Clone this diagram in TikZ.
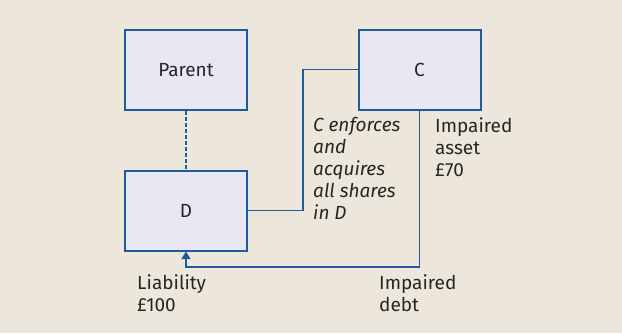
\documentclass[tikz,border=0pt]{standalone}
\usepackage{fontspec}
\setmainfont{Fira Sans}
\usetikzlibrary{arrows.meta}
\definecolor{bgbeige}{HTML}{EDE6DB}
\definecolor{boxfill}{HTML}{E8E8F4}
\definecolor{linkblue}{HTML}{1E5A9C}
\definecolor{inkgray}{HTML}{262626}
\begin{document}
\begin{tikzpicture}[x=1pt,y=-1pt,
  entity/.style={draw=linkblue,line width=2pt,fill=boxfill,minimum width=122pt,
    minimum height=80pt,inner sep=0pt,font=\fontsize{19}{22}\selectfont,text=inkgray},
  link/.style={draw=linkblue,line width=1.3pt},
  note/.style={anchor=north west,inner sep=0pt,align=left,
    font=\fontsize{19}{22}\selectfont,text=inkgray}]
\fill[bgbeige] (0,0) rectangle (622,333);
\useasboundingbox (0,0) rectangle (622,333);

% companies
\node[entity] (parent) at (186,70) {Parent};
\node[entity] (d) at (186,210.5) {D};
\node[entity] (c) at (419.5,69.5) {C};

% connectors
\draw[link,line width=1.2pt,dash pattern=on 3.5pt off 2.5pt] (parent.south) -- (d.north);
\coordinate (kneeA) at (303,0);
\draw[link] (c.west) -| (kneeA |- d.east) -- (d.east);
\coordinate (kneeB) at (0,267);
\draw[link,-{Triangle[width=9pt,length=7.5pt]}] (c.south) -- (c.south |- kneeB) -| (d.south);

% labels
\node[note,font=\fontsize{19}{22}\selectfont\itshape] (enf) at (313,117)
  {C enforces\\and\\acquires\\all shares\\in D};
\node[note] (asset) at (435,117) {Impaired\\asset\\£70};
\node[note] (debt) at (379,274) {Impaired\\debt};
\node[note] (liab) at (137,274) {Liability\\£100};
\end{tikzpicture}
\end{document}
